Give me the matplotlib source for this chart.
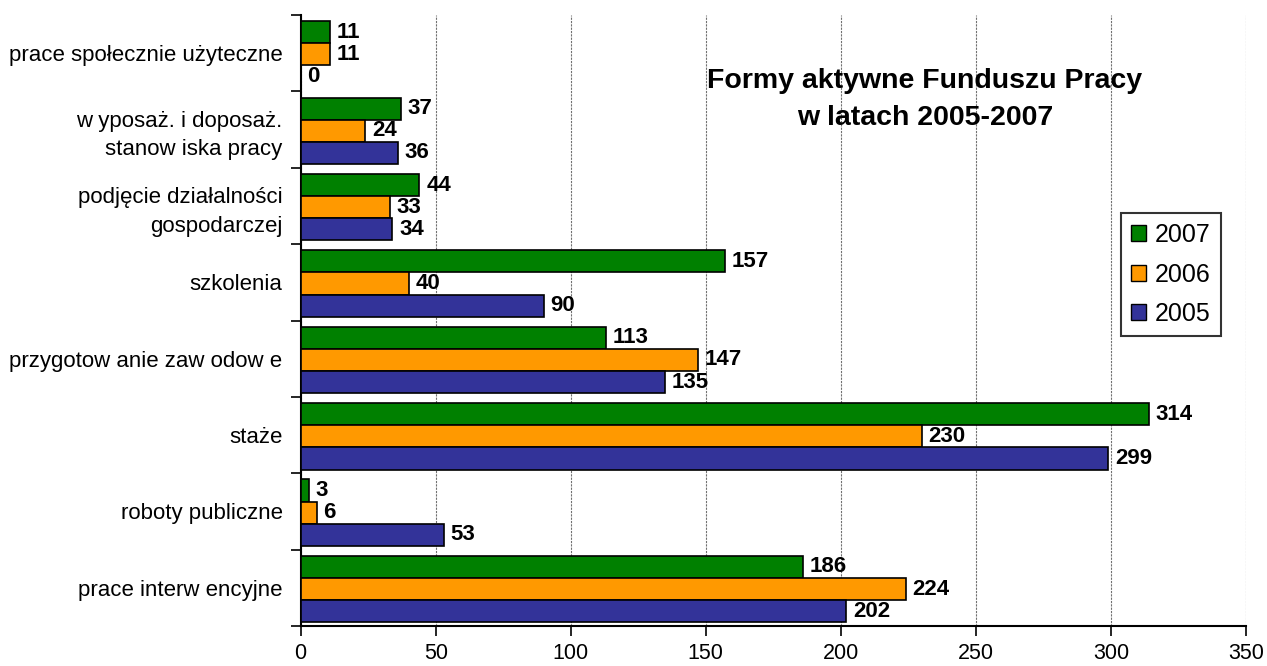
import numpy as np
import matplotlib.pyplot as plt
from matplotlib.patches import Patch

plt.rcParams['font.family'] = ['Liberation Sans', 'DejaVu Sans']

# categories listed bottom -> top
categories = ['prace interw encyjne', 'roboty publiczne', 'staże',
              'przygotow anie zaw odow e', 'szkolenia',
              'podjęcie działalności\ngospodarczej',
              'w yposaż. i doposaż.\nstanow iska pracy',
              'prace społecznie użyteczne']
years = ['2007', '2006', '2005']
v2007 = [186, 3, 314, 113, 157, 44, 37, 11]
v2006 = [224, 6, 230, 147, 40, 33, 24, 11]
v2005 = [202, 53, 299, 135, 90, 34, 36, 0]
colors = ['#008000', '#FF9900', '#333399']

fig = plt.figure(figsize=(12.67, 6.66), dpi=100)
ax = fig.add_axes([0.2373, 0.06, 0.9834 - 0.2373, 0.9775 - 0.06])

y = np.arange(len(categories))
h = 0.29
offsets = [h, 0, -h]
for vals, off, col, lab in zip([v2007, v2006, v2005], offsets, colors, years):
    pos = y + off - 0.016
    ax.barh(pos, vals, height=h, color=col, edgecolor='black', linewidth=1.2,
            label=lab, zorder=3)
    for p, v in zip(pos, vals):
        ax.text(v + 2.5, p, str(v), ha='left', va='center', fontsize=16,
                fontweight='bold', zorder=4)

ax.set_xlim(0, 350)
ax.set_ylim(-0.5, len(categories) - 0.5)
ax.set_xticks(np.arange(0, 351, 50))
ax.tick_params(axis='x', labelsize=15.5, direction='out', length=7, width=1.2, pad=5.5)

ax.set_yticks(np.arange(-0.5, len(categories), 1))
ax.set_yticklabels([])
ax.set_yticks(y, minor=True)
ax.set_yticklabels(categories, minor=True, fontsize=16)
for t in ax.get_yticklabels(minor=True):
    t.set_linespacing(1.45)
ax.tick_params(axis='y', which='major', direction='out', length=7, width=1.2)
ax.tick_params(axis='y', which='minor', length=0, pad=13)

ax.grid(axis='x', color='#707070', linestyle=(0, (2, 1)), linewidth=0.8, zorder=0)
for s in ['top', 'right']:
    ax.spines[s].set_visible(False)
for s in ['left', 'bottom']:
    ax.spines[s].set_linewidth(1.5)

fig.text(0.73, 0.851, 'Formy aktywne Funduszu Pracy\nw latach 2005-2007',
         ha='center', va='center', fontsize=20.5, fontweight='bold', linespacing=1.55)

handles = [Patch(facecolor=c, edgecolor='black', label=l) for c, l in zip(colors, years)]
leg = fig.legend(handles=handles, loc='upper left', bbox_to_anchor=(0.8848, 0.680),
                 borderaxespad=0, fontsize=18, frameon=True, fancybox=False,
                 handlelength=0.6, handleheight=0.6, handletextpad=0.35,
                 labelspacing=0.62, borderpad=0.4)
leg.get_frame().set_edgecolor('black')
leg.get_frame().set_linewidth(1.5)

fig.savefig('out.png', dpi=100)
